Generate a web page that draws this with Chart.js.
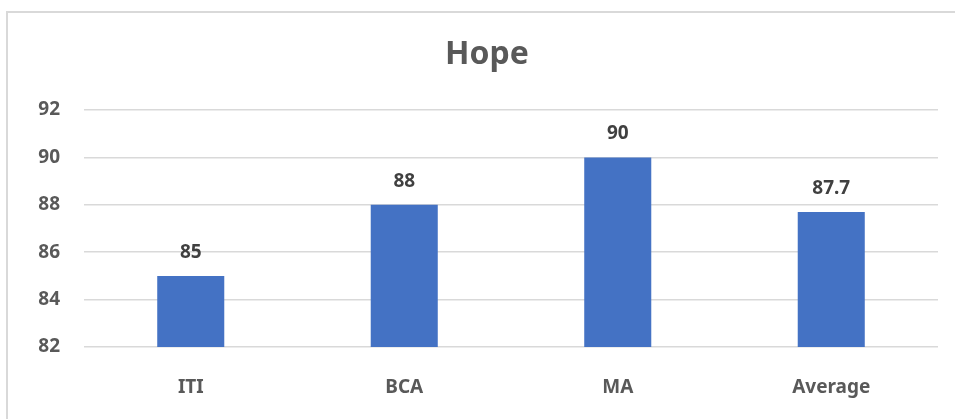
<!DOCTYPE html>
<html>
<head>
<meta charset="utf-8">
<script src="https://cdn.jsdelivr.net/npm/chart.js@4"></script>
<style>
  html, body { margin: 0; padding: 0; background: #fff; overflow: hidden; }
  #wrap { position: relative; width: 955px; height: 419px; }
  #frame {
    position: absolute; left: 6px; top: 11px; width: 960px; height: 420px;
    border-left: 2px solid #d9d9d9; border-top: 2px solid #d9d9d9;
  }
  canvas { position: absolute; left: 0; top: 0; }
</style>
</head>
<body>
<div id="wrap">
  <div id="frame"></div>
  <canvas id="hopeChart" width="955" height="419"></canvas>
</div>
<script>
// Chart data
const chartTitle = "Hope";
const categories = ["ITI", "BCA", "MA", "Average"];
const hopeValues = [85, 88, 90, 87.7];
const yMin = 82;
const yMax = 92;
const yStep = 2;

const fontFamily = "'Noto Sans', 'Open Sans', sans-serif";

// Title and value labels above each bar
const textLayer = {
    id: "textLayer",
    afterDatasetsDraw(chart) {
        const ctx = chart.ctx;
        ctx.save();
        ctx.fillStyle = "#595959";
        ctx.textAlign = "center";
        ctx.textBaseline = "middle";
        ctx.font = "bold 32px " + fontFamily;
        ctx.fillText(chartTitle, 487, 55);

        const meta = chart.getDatasetMeta(0);
        ctx.font = "bold 19px " + fontFamily;
        ctx.fillStyle = "#404040";
        ctx.textBaseline = "alphabetic";
        meta.data.forEach((bar, i) => {
            ctx.fillText(String(hopeValues[i]), bar.x, bar.y - 18);
        });
        ctx.restore();
    },
};

const ctx = document.getElementById("hopeChart").getContext("2d");
new Chart(ctx, {
    type: "bar",
    data: {
        labels: categories,
        datasets: [{
            label: chartTitle,
            data: hopeValues,
            backgroundColor: "#4472C4",
            borderWidth: 0,
            categoryPercentage: 1,
            barPercentage: 0.314,
        }],
    },
    options: {
        responsive: false,
        animation: false,
        layout: {
            padding: { left: 0, right: 17, top: 110, bottom: 0 },
        },
        plugins: {
            legend: { display: false },
            tooltip: { enabled: false },
            title: { display: false },
        },
        scales: {
            x: {
                afterFit(scale) { scale.height = 72; },
                grid: { display: false },
                border: { display: false },
                ticks: {
                    color: "#595959",
                    padding: 21,
                    font: { family: fontFamily, size: 19, weight: "bold" },
                },
            },
            y: {
                min: yMin,
                max: yMax,
                afterFit(scale) { scale.width = 84; },
                grid: { color: "#d9d9d9", lineWidth: 1.5, drawTicks: false },
                border: { display: false },
                ticks: {
                    stepSize: yStep,
                    color: "#595959",
                    padding: 24,
                    font: { family: fontFamily, size: 19, weight: "bold" },
                },
            },
        },
    },
    plugins: [textLayer],
});
</script>
</body>
</html>
